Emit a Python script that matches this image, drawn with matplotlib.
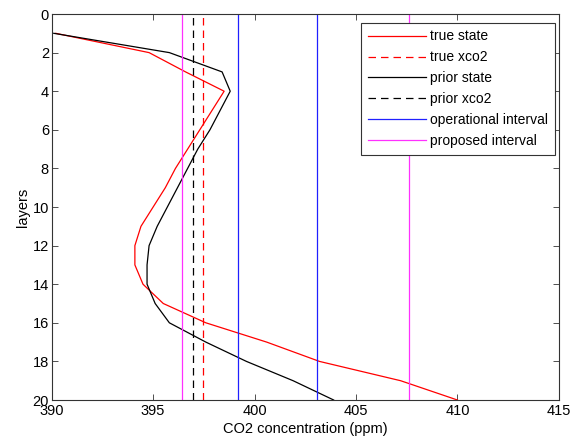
import matplotlib
matplotlib.use("Agg")
import matplotlib.pyplot as plt
import numpy as np

plt.rcParams["font.family"] = ["Liberation Sans", "DejaVu Sans"]
plt.rcParams["font.size"] = 10

layers = np.arange(1, 21)
true_state = [390.2, 394.8, 396.6, 398.5, 397.9, 397.3, 396.7, 396.1, 395.6, 395.0,
              394.4, 394.1, 394.1, 394.5, 395.5, 397.6, 400.6, 403.2, 407.2, 410.0]
prior_state = [390.1, 395.8, 398.4, 398.8, 398.3, 397.8, 397.2, 396.7, 396.2, 395.7,
               395.2, 394.8, 394.7, 394.7, 395.1, 395.8, 397.6, 399.6, 401.9, 403.9]
true_xco2 = 397.45
prior_xco2 = 396.95
operational = [399.2, 403.1]
proposed = [396.4, 407.6]

fig = plt.figure(figsize=(5.72, 4.45), dpi=100)
ax = fig.add_axes([0.0904, 0.1011, 0.8866, 0.8674])

ax.plot(true_state, layers, color="red", lw=0.9, label="true state")
ax.axvline(true_xco2, color="red", lw=0.9, ls=(0, (6, 4)), label="true xco2")
ax.plot(prior_state, layers, color="black", lw=0.9, label="prior state")
ax.axvline(prior_xco2, color="black", lw=0.9, ls=(0, (6, 4)), label="prior xco2")
ax.axvline(operational[0], color="#2020ff", lw=0.9, label="operational interval")
ax.axvline(operational[1], color="#2020ff", lw=0.9)
ax.axvline(proposed[0], color="#ff30ff", lw=0.9, label="proposed interval")
ax.axvline(proposed[1], color="#ff30ff", lw=0.9)

ax.set_xlim(390, 415)
ax.set_ylim(20, 0)
ax.set_xticks(np.arange(390, 416, 5))
ax.set_yticks(np.arange(0, 21, 2))
ax.set_xlabel("CO2 concentration (ppm)", fontsize=10.5, labelpad=3)
ax.set_ylabel("layers", fontsize=10.5, labelpad=2)
ax.tick_params(direction="in", top=True, right=True, length=4, width=0.6,
               labelsize=10.5, colors="#333333", labelcolor="black", pad=2)
ax.tick_params(axis="x", pad=3)
for spine in ax.spines.values():
    spine.set_linewidth(0.8)
    spine.set_color("#333333")

leg = ax.legend(loc="upper right", bbox_to_anchor=(0.993, 0.978), borderaxespad=0,
                fontsize=10, frameon=True, fancybox=False,
                edgecolor="#333333", framealpha=1,
                handlelength=4.2, handletextpad=0.3, labelspacing=0.5,
                borderpad=0.5)
leg.get_frame().set_linewidth(0.8)

fig.savefig("out.png", dpi=100)
